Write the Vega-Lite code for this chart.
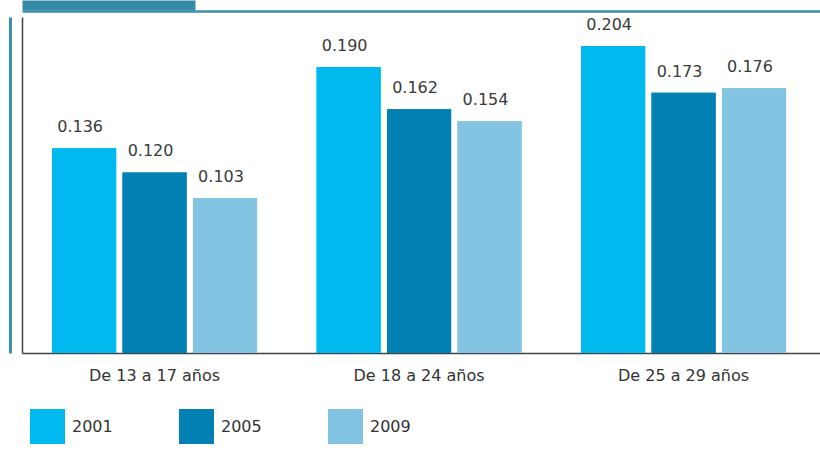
{
  "$schema": "https://vega.github.io/schema/vega-lite/v6.json",
  "width": 798,
  "height": 336,
  "autosize": "none",
  "padding": {"left": 22, "top": 17, "right": 0, "bottom": 115},
  "background": "white",
  "config": {"view": {"stroke": null}, "font": "DejaVu Sans"},
  "data": {"values": [
    {"grupo": "De 13 a 17 años", "anio": "2001", "valor": 0.136},
    {"grupo": "De 13 a 17 años", "anio": "2005", "valor": 0.120},
    {"grupo": "De 13 a 17 años", "anio": "2009", "valor": 0.103},
    {"grupo": "De 18 a 24 años", "anio": "2001", "valor": 0.190},
    {"grupo": "De 18 a 24 años", "anio": "2005", "valor": 0.162},
    {"grupo": "De 18 a 24 años", "anio": "2009", "valor": 0.154},
    {"grupo": "De 25 a 29 años", "anio": "2001", "valor": 0.204},
    {"grupo": "De 25 a 29 años", "anio": "2005", "valor": 0.173},
    {"grupo": "De 25 a 29 años", "anio": "2009", "valor": 0.176}
  ]},
  "resolve": {"axis": {"x": "independent", "y": "independent"}},
  "layer": [
    {
      "mark": {"type": "bar"},
      "encoding": {
        "x": {"field": "grupo", "type": "nominal", "sort": null,
          "scale": {"paddingInner": 0.225, "paddingOuter": 0.121, "align": 0.47},
          "axis": {"title": null, "orient": "top", "labels": false, "ticks": false, "tickSize": 0, "domainColor": "#358aa8", "domainWidth": 10, "domainDash": [173, 2000], "offset": 12}},
        "xOffset": {"field": "anio", "type": "nominal", "scale": {"paddingInner": 0.09, "paddingOuter": 0}},
        "y": {"field": "valor", "type": "quantitative",
          "scale": {"domain": [0, 0.2233], "nice": false, "zero": true},
          "axis": null},
        "color": {"field": "anio", "type": "nominal",
          "scale": {"domain": ["2001", "2005", "2009"], "range": ["#00b9ef", "#0080b3", "#82c4e2"]},
          "legend": {"title": null, "orient": "none", "legendX": 8, "legendY": 392, "direction": "horizontal", "symbolType": "square", "symbolSize": 1225, "symbolStrokeWidth": 0, "symbolOpacity": 1, "labelFontSize": 16, "labelColor": "#333333", "labelOffset": 7, "columnPadding": 66, "padding": 0}}
      }
    },
    {
      "mark": {"type": "bar"},
      "encoding": {
        "x": {"field": "grupo", "type": "nominal", "sort": null,
          "axis": {"title": null, "orient": "bottom", "domainColor": "#444444", "domainWidth": 1.5, "ticks": false, "tickSize": 0, "labelFontSize": 16, "labelColor": "#333333", "labelPadding": 14, "labelAngle": 0}},
        "xOffset": {"field": "anio", "type": "nominal"},
        "y": {"field": "valor", "type": "quantitative",
          "axis": {"title": null, "labels": false, "ticks": false, "tickSize": 0, "grid": false, "domainColor": "#444444", "domainWidth": 1.5}},
        "color": {"field": "anio", "type": "nominal"}
      }
    },
    {
      "mark": {"type": "text", "fontSize": 16, "color": "#3a3a3a", "dx": -4, "dy": -16, "baseline": "alphabetic", "align": "center"},
      "encoding": {
        "x": {"field": "grupo", "type": "nominal", "sort": null,
          "axis": {"title": null, "orient": "top", "labels": false, "ticks": false, "tickSize": 0, "domainColor": "#3a8fad", "domainWidth": 2.5, "offset": 6}},
        "xOffset": {"field": "anio", "type": "nominal"},
        "y": {"field": "valor", "type": "quantitative",
          "axis": {"title": null, "orient": "left", "labels": false, "ticks": false, "tickSize": 0, "grid": false, "domainColor": "#3a8fad", "domainWidth": 3, "offset": 12}},
        "text": {"field": "valor", "type": "quantitative", "format": ".3f"}
      }
    }
  ]
}
